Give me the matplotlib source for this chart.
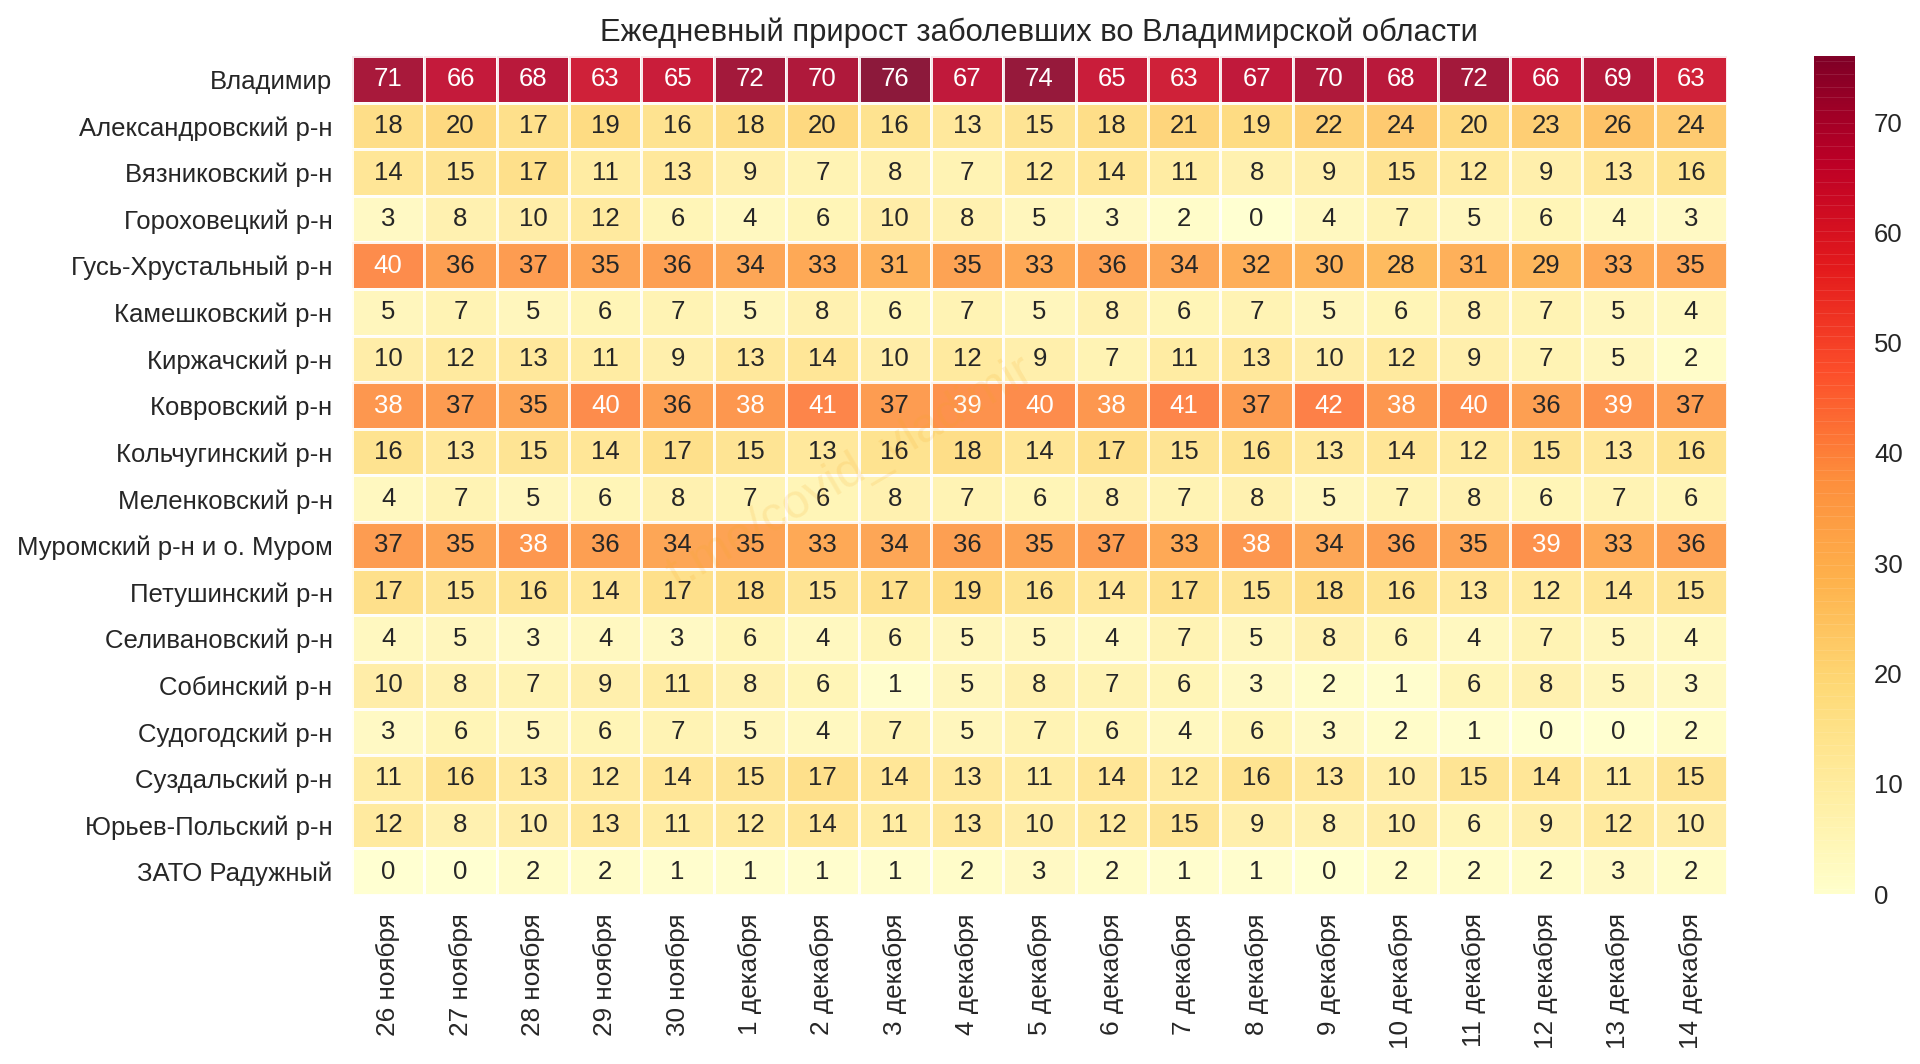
import numpy as np
import matplotlib
matplotlib.use("Agg")
import matplotlib.pyplot as plt
from matplotlib.transforms import ScaledTranslation

plt.rcParams['font.family'] = ['Liberation Sans', 'DejaVu Sans']

title = "Ежедневный прирост заболевших во Владимирской области"
watermark = "t.me/covid_vladimir"
dates = ["26 ноября", "27 ноября", "28 ноября", "29 ноября", "30 ноября",
         "1 декабря", "2 декабря", "3 декабря", "4 декабря", "5 декабря",
         "6 декабря", "7 декабря", "8 декабря", "9 декабря", "10 декабря",
         "11 декабря", "12 декабря", "13 декабря", "14 декабря"]
districts = ["Владимир", "Александровский р-н", "Вязниковский р-н", "Гороховецкий р-н",
             "Гусь-Хрустальный р-н", "Камешковский р-н", "Киржачский р-н", "Ковровский р-н",
             "Кольчугинский р-н", "Меленковский р-н", "Муромский р-н и о. Муром",
             "Петушинский р-н", "Селивановский р-н", "Собинский р-н", "Судогодский р-н",
             "Суздальский р-н", "Юрьев-Польский р-н", "ЗАТО Радужный"]
vladimir = [71, 66, 68, 63, 65, 72, 70, 76, 67, 74, 65, 63, 67, 70, 68, 72, 66, 69, 63]
aleksandrov = [18, 20, 17, 19, 16, 18, 20, 16, 13, 15, 18, 21, 19, 22, 24, 20, 23, 26, 24]
vyazniki = [14, 15, 17, 11, 13, 9, 7, 8, 7, 12, 14, 11, 8, 9, 15, 12, 9, 13, 16]
gorokhovets = [3, 8, 10, 12, 6, 4, 6, 10, 8, 5, 3, 2, 0, 4, 7, 5, 6, 4, 3]
gus = [40, 36, 37, 35, 36, 34, 33, 31, 35, 33, 36, 34, 32, 30, 28, 31, 29, 33, 35]
kameshkovo = [5, 7, 5, 6, 7, 5, 8, 6, 7, 5, 8, 6, 7, 5, 6, 8, 7, 5, 4]
kirzhach = [10, 12, 13, 11, 9, 13, 14, 10, 12, 9, 7, 11, 13, 10, 12, 9, 7, 5, 2]
kovrov = [38, 37, 35, 40, 36, 38, 41, 37, 39, 40, 38, 41, 37, 42, 38, 40, 36, 39, 37]
kolchugino = [16, 13, 15, 14, 17, 15, 13, 16, 18, 14, 17, 15, 16, 13, 14, 12, 15, 13, 16]
melenki = [4, 7, 5, 6, 8, 7, 6, 8, 7, 6, 8, 7, 8, 5, 7, 8, 6, 7, 6]
murom = [37, 35, 38, 36, 34, 35, 33, 34, 36, 35, 37, 33, 38, 34, 36, 35, 39, 33, 36]
petushki = [17, 15, 16, 14, 17, 18, 15, 17, 19, 16, 14, 17, 15, 18, 16, 13, 12, 14, 15]
selivanovo = [4, 5, 3, 4, 3, 6, 4, 6, 5, 5, 4, 7, 5, 8, 6, 4, 7, 5, 4]
sobinka = [10, 8, 7, 9, 11, 8, 6, 1, 5, 8, 7, 6, 3, 2, 1, 6, 8, 5, 3]
sudogda = [3, 6, 5, 6, 7, 5, 4, 7, 5, 7, 6, 4, 6, 3, 2, 1, 0, 0, 2]
suzdal = [11, 16, 13, 12, 14, 15, 17, 14, 13, 11, 14, 12, 16, 13, 10, 15, 14, 11, 15]
yuryev = [12, 8, 10, 13, 11, 12, 14, 11, 13, 10, 12, 15, 9, 8, 10, 6, 9, 12, 10]
raduzhny = [0, 0, 2, 2, 1, 1, 1, 1, 2, 3, 2, 1, 1, 0, 2, 2, 2, 3, 2]

values = np.array([vladimir, aleksandrov, vyazniki, gorokhovets, gus, kameshkovo, kirzhach,
                   kovrov, kolchugino, melenki, murom, petushki, selivanovo, sobinka,
                   sudogda, suzdal, yuryev, raduzhny])

W, H = 1920, 1064
fig = plt.figure(figsize=(W / 100, H / 100), dpi=100, facecolor='white')
ax = fig.add_axes([352 / W, 1 - 895 / H, (1727 - 352) / W, (895 - 56) / H])
cax = fig.add_axes([1814 / W, 1 - 894 / H, (1855 - 1814) / W, (894 - 56) / H])

cmap = plt.get_cmap('YlOrRd')
norm = matplotlib.colors.Normalize(vmin=0, vmax=values.max())
mesh = ax.pcolormesh(values, cmap=cmap, norm=norm, edgecolors='white', linewidth=1.9, alpha=0.9)
ax.set_xlim(0, values.shape[1])
ax.set_ylim(values.shape[0], 0)

text_dark = '#262626'
for i, row in enumerate(values):
    for j, v in enumerate(row):
        r, g, b, _ = cmap(norm(v))
        c = np.array([r, g, b])
        c = np.where(c <= 0.03928, c / 12.92, ((c + 0.055) / 1.055) ** 2.4)
        lum = 0.2126 * c[0] + 0.7152 * c[1] + 0.0722 * c[2]
        ax.text(j + 0.5, i + 0.5, str(v), ha='center', va='center', fontsize=18.5,
                color='white' if lum < 0.408 else text_dark, zorder=3)

ax.set_xticks(np.arange(len(dates)) + 0.5)
ax.set_xticklabels(dates, rotation=90, fontsize=18.8, color=text_dark)
ax.set_yticks(np.arange(len(districts)) + 0.5)
ax.set_yticklabels(districts, rotation=0, fontsize=18.5, color=text_dark, va='center')
ax.tick_params(axis='x', length=0, pad=13.0)
ax.tick_params(axis='y', length=0, pad=14.0)
shift = ScaledTranslation(0, -2.5 / 100, fig.dpi_scale_trans)
for lab in ax.get_yticklabels():
    lab.set_transform(lab.get_transform() + shift)
for s in ax.spines.values():
    s.set_visible(False)

fig.text(1039 / W, 1 - 33 / H, title, ha='center', va='center', fontsize=22.3, color=text_dark)
fig.text(850 / W, 1 - 473 / H, watermark, ha='center', va='center', fontsize=35, rotation=30.5,
         color='#f5a623', alpha=0.15, zorder=10)

cb = fig.colorbar(mesh, cax=cax)
cb.solids.set_edgecolor('face')
cb.outline.set_visible(False)
cb.set_ticks([0, 10, 20, 30, 40, 50, 60, 70])
cb.ax.tick_params(length=0, labelsize=18.5, pad=13.6, labelcolor=text_dark)

fig.savefig('out.png', dpi=100, facecolor='white')
